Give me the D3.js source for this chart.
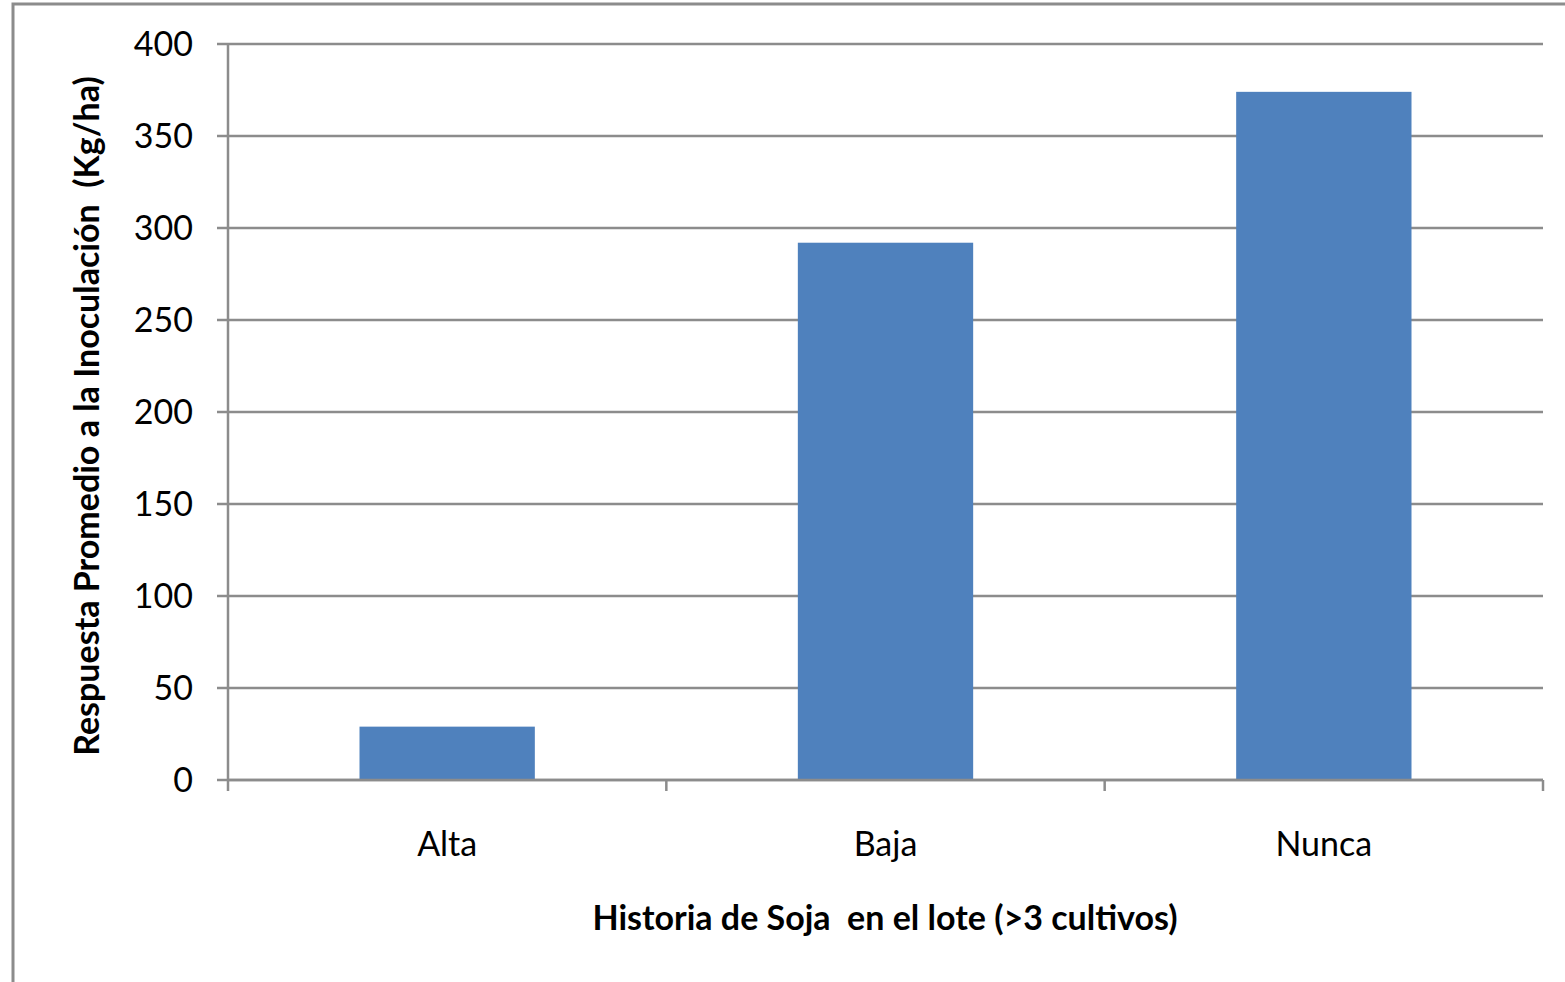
<!DOCTYPE html>
<html>
<head>
<meta charset="utf-8">
<script src="https://cdn.jsdelivr.net/npm/d3@7"></script>
<style>
  body { margin: 0; background: #fff; }
  svg { display: block; font-family: Lato, "Open Sans", sans-serif; }
  text { white-space: pre; }
</style>
</head>
<body>
<svg width="1565" height="982"></svg>
<script>
var categories = ["Alta", "Baja", "Nunca"];
var values = [29, 292, 374];
var yTicks = [0, 50, 100, 150, 200, 250, 300, 350, 400];

var svg = d3.select("svg");

// outer chart border
svg.append("rect")
  .attr("x", 13).attr("y", 4)
  .attr("width", 1600).attr("height", 1100)
  .attr("fill", "none")
  .attr("stroke", "#8c8c8c")
  .attr("stroke-width", 3);

var plotLeft = 228, plotRight = 1543, plotTop = 44, plotBottom = 780;

var x = d3.scaleBand().domain(categories).range([plotLeft, plotRight]).paddingInner(0.6).paddingOuter(0.3);
var xb = d3.scaleBand().domain(categories).range([plotLeft, plotRight]);
var y = d3.scaleLinear().domain([0, 400]).range([plotBottom, plotTop]);

// gridlines + y ticks
svg.append("g").selectAll("line")
  .data(yTicks)
  .enter().append("line")
  .attr("x1", plotLeft - 11).attr("x2", plotRight)
  .attr("y1", function(d){ return y(d); })
  .attr("y2", function(d){ return y(d); })
  .attr("stroke", "#8c8c8c")
  .attr("stroke-width", 2.5);

svg.append("g").selectAll("text")
  .data(yTicks)
  .enter().append("text")
  .attr("x", plotLeft - 35)
  .attr("y", function(d){ return y(d); })
  .attr("dy", "0.36em")
  .attr("text-anchor", "end")
  .attr("font-size", 34)
  .attr("fill", "#000")
  .text(function(d){ return d; });

// bars
svg.append("g").selectAll("rect")
  .data(values)
  .enter().append("rect")
  .attr("x", function(d, i){ return x(categories[i]); })
  .attr("width", x.bandwidth())
  .attr("y", function(d){ return y(d); })
  .attr("height", function(d){ return y(0) - y(d); })
  .attr("fill", "#4f81bd");

// y axis line
svg.append("line")
  .attr("x1", plotLeft).attr("x2", plotLeft)
  .attr("y1", plotTop).attr("y2", plotBottom + 11)
  .attr("stroke", "#8c8c8c").attr("stroke-width", 2.5);

// x axis line and ticks at category boundaries
svg.append("line")
  .attr("x1", plotLeft).attr("x2", plotRight)
  .attr("y1", plotBottom).attr("y2", plotBottom)
  .attr("stroke", "#8c8c8c").attr("stroke-width", 2.5);

var bounds = categories.map(function(c){ return xb(c) + xb.bandwidth(); });
svg.append("g").selectAll("line")
  .data(bounds)
  .enter().append("line")
  .attr("x1", function(d){ return d; }).attr("x2", function(d){ return d; })
  .attr("y1", plotBottom).attr("y2", plotBottom + 11)
  .attr("stroke", "#8c8c8c").attr("stroke-width", 2.5);

svg.append("g").selectAll("text")
  .data(categories)
  .enter().append("text")
  .attr("x", function(d){ return xb(d) + xb.bandwidth() / 2; })
  .attr("y", 856)
  .attr("text-anchor", "middle")
  .attr("font-size", 34)
  .attr("fill", "#000")
  .text(function(d){ return d; });

// axis titles
svg.append("text")
  .attr("x", 885).attr("y", 930)
  .attr("text-anchor", "middle")
  .attr("font-size", 34)
  .attr("font-weight", "bold")
  .attr("fill", "#000")
  .text("Historia de Soja  en el lote (>3 cultivos)");

svg.append("text")
  .attr("transform", "translate(99,416) rotate(-90)")
  .attr("text-anchor", "middle")
  .attr("font-size", 34)
  .attr("font-weight", "bold")
  .attr("fill", "#000")
  .text("Respuesta Promedio a la Inoculación  (Kg/ha)");
</script>
</body>
</html>
